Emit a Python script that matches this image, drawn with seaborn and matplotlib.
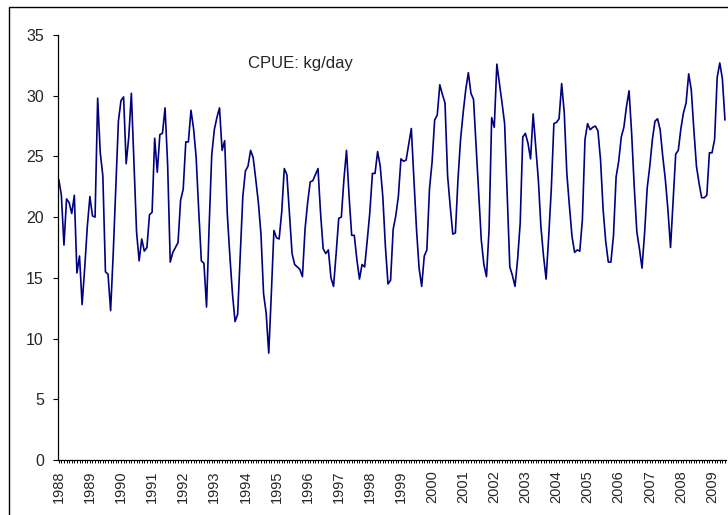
import numpy as np
import pandas as pd
import matplotlib
matplotlib.use("Agg")
import matplotlib.pyplot as plt
from matplotlib.patches import Rectangle
import seaborn as sns

# Monthly CPUE (kg/day), January 1988 to June 2009
cpue = [
    23.1, 21.8, 17.7, 21.5, 21.2, 20.3, 21.8, 15.4, 16.8, 12.8, 15.8, 19.2,  # 1988
    21.7, 20.1, 20.0, 29.8, 25.3, 23.4, 15.5, 15.3, 12.3, 17.0, 22.5, 27.9,  # 1989
    29.6, 29.9, 24.4, 26.6, 30.2, 24.5, 18.8, 16.4, 18.2, 17.2, 17.5, 20.2,  # 1990
    20.4, 26.5, 23.7, 26.8, 26.9, 29.0, 24.3, 16.3, 17.1, 17.5, 17.9, 21.4,  # 1991
    22.3, 26.2, 26.2, 28.8, 27.3, 24.9, 20.5, 16.4, 16.2, 12.6, 19.2, 25.1,  # 1992
    27.2, 28.2, 29.0, 25.5, 26.3, 20.3, 16.8, 13.7, 11.4, 12.0, 16.8, 21.7,  # 1993
    23.8, 24.2, 25.5, 24.9, 23.1, 21.2, 18.6, 13.7, 12.1, 8.8, 13.7, 18.9,   # 1994
    18.3, 18.2, 20.4, 24.0, 23.5, 20.3, 17.0, 16.1, 15.9, 15.7, 15.1, 19.0,  # 1995
    21.2, 22.9, 23.0, 23.5, 24.0, 20.3, 17.4, 17.0, 17.3, 15.0, 14.3, 17.0,  # 1996
    19.9, 20.0, 23.1, 25.5, 21.7, 18.5, 18.5, 16.5, 14.9, 16.1, 15.9, 18.1,  # 1997
    20.4, 23.6, 23.6, 25.4, 24.2, 21.7, 17.6, 14.5, 14.8, 19.0, 20.1, 21.7,  # 1998
    24.8, 24.6, 24.7, 26.0, 27.3, 23.1, 19.0, 15.8, 14.3, 16.8, 17.3, 22.3,  # 1999
    24.5, 28.0, 28.4, 30.9, 30.1, 29.4, 23.4, 20.9, 18.6, 18.7, 23.1, 26.4,  # 2000
    28.6, 30.5, 31.9, 30.2, 29.7, 25.8, 22.0, 18.1, 16.1, 15.1, 19.0, 28.2,  # 2001
    27.4, 32.6, 31.0, 29.4, 27.7, 21.7, 15.9, 15.2, 14.3, 16.5, 19.5, 26.6,  # 2002
    26.9, 26.1, 24.8, 28.5, 25.8, 23.1, 19.2, 16.8, 14.9, 18.4, 22.3, 27.7,  # 2003
    27.8, 28.1, 31.0, 28.6, 23.6, 20.9, 18.4, 17.1, 17.3, 17.2, 19.8, 26.4,  # 2004
    27.7, 27.2, 27.4, 27.5, 27.1, 24.7, 20.6, 18.0, 16.3, 16.3, 18.5, 23.3,  # 2005
    24.6, 26.6, 27.4, 29.1, 30.4, 26.9, 22.5, 18.8, 17.4, 15.8, 18.7, 22.4,  # 2006
    24.2, 26.4, 27.9, 28.1, 27.2, 25.0, 23.1, 20.6, 17.5, 21.4, 25.2, 25.5,  # 2007
    27.3, 28.6, 29.4, 31.8, 30.5, 27.2, 24.2, 22.8, 21.6, 21.6, 21.8, 25.3,  # 2008
    25.3, 26.4, 31.5, 32.7, 31.4, 28.0,                                      # 2009
]
years = [str(y) for y in range(1988, 2010)]
y_ticks = [0, 5, 10, 15, 20, 25, 30, 35]

df = pd.DataFrame({'month': np.arange(len(cpue)), 'cpue': cpue})

sns.set_style("ticks")
plt.rcParams['font.family'] = ['Liberation Sans', 'DejaVu Sans']

W, H = 728, 515
fig = plt.figure(figsize=(W / 100, H / 100), dpi=100)
ax = fig.add_axes([58 / W, 1 - 460 / H, (726 - 58) / W, (460 - 35) / H])

sns.lineplot(data=df, x='month', y='cpue', color='#000080', linewidth=1.2, ax=ax)

# Axes limits and ticks
ax.set_xlim(-0.3, len(cpue) - 0.6)
ax.set_ylim(0, 35)
ax.set_yticks(y_ticks)
ax.set_xticks(np.arange(0, len(cpue), 12))
ax.set_xticklabels(years, rotation=90, fontsize=10.5)
ax.set_xticks(np.arange(len(cpue)), minor=True)
ax.tick_params(axis='x', which='both', direction='out', length=2.3, width=0.7,
               pad=5, color='black')
ax.tick_params(axis='y', direction='out', length=3.6, width=0.8, pad=6.5,
               labelsize=11.5, color='black')
ax.set_xlabel('')
ax.set_ylabel('')

sns.despine(ax=ax)
for side in ['left', 'bottom']:
    ax.spines[side].set_color('black')
    ax.spines[side].set_linewidth(0.9)

ax.text(0.284, 0.932, 'CPUE: kg/day', transform=ax.transAxes,
        fontsize=12, va='center', ha='left')

# Outer chart frame (only top and left edges fall inside the image)
fig.add_artist(Rectangle((9 / W, -0.1), 1.2, 1 - 7 / H + 0.1,
                         transform=fig.transFigure, fill=False,
                         edgecolor='black', linewidth=1.0))

fig.savefig('out.png', dpi=100)
